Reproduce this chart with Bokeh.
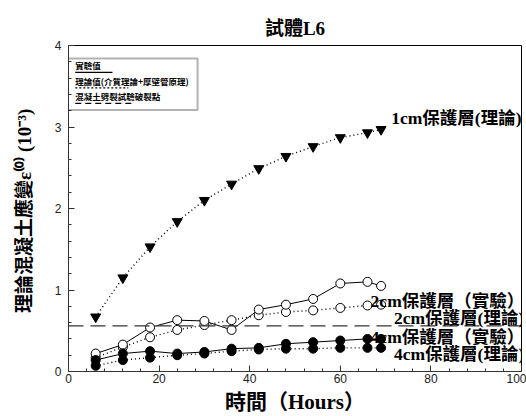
from bokeh.plotting import figure
from bokeh.models import Range1d, Span, Label, SingleIntervalTicker, BoxAnnotation
from bokeh.embed import file_html
from bokeh.resources import INLINE

# ---- data ----
hours = [6, 12, 18, 24, 30, 36, 42, 48, 54, 60, 66, 69]
theory_1cm = [0.67, 1.15, 1.53, 1.84, 2.10, 2.30, 2.49, 2.64, 2.76, 2.87, 2.93, 2.97]
exp_2cm = [0.22, 0.33, 0.54, 0.63, 0.62, 0.51, 0.76, 0.82, 0.89, 1.08, 1.10, 1.05]
theory_2cm = [0.17, 0.30, 0.42, 0.51, 0.57, 0.63, 0.69, 0.73, 0.75, 0.78, 0.81, 0.82]
exp_4cm = [0.14, 0.22, 0.25, 0.22, 0.24, 0.28, 0.29, 0.34, 0.36, 0.38, 0.40, 0.40]
theory_4cm = [0.07, 0.14, 0.17, 0.20, 0.22, 0.25, 0.27, 0.28, 0.28, 0.29, 0.29, 0.29]
split_strain = 0.56

title_text = "試體L6"
x_label = "時間（Hours）"
y_label = "理論混凝土應變ε⁽⁰⁾  (10⁻³)"
legend_labels = ["實驗值", "理論值(介質理論+厚壁管原理)", "混凝土劈裂試驗破裂點"]
series_labels = ["1cm保護層(理論)", "2cm保護層（實驗）", "2cm保護層(理論)",
                 "4cm保護層（實驗）", "4cm保護層(理論)"]

SERIF_CJK = "Liberation Serif, Noto Sans CJK TC"
CJK = "Noto Sans CJK TC"

p = figure(width=526, height=416, x_range=Range1d(0, 100), y_range=Range1d(0, 4),
           output_backend="svg", toolbar_location=None,
           min_border_left=68, min_border_right=5, min_border_top=45, min_border_bottom=44)
p.background_fill_color = "white"
p.border_fill_color = "white"
p.outline_line_color = "black"
p.outline_line_width = 1
p.xgrid.visible = False
p.ygrid.visible = False

p.title.text = title_text
p.title.align = "center"
p.title.offset = 17
p.title.standoff = 13
p.title.text_font = SERIF_CJK
p.title.text_font_size = "19px"
p.title.text_font_style = "bold"
p.title.text_color = "black"

p.xaxis.ticker = SingleIntervalTicker(interval=20, num_minor_ticks=5)
p.yaxis.ticker = SingleIntervalTicker(interval=1, num_minor_ticks=5)
for ax in (p.xaxis, p.yaxis):
    ax.major_tick_in = 6
    ax.major_tick_out = 0
    ax.minor_tick_in = 3
    ax.minor_tick_out = 0
    ax.axis_line_color = "#333333"
    ax.major_tick_line_color = "#333333"
    ax.minor_tick_line_color = "#333333"
    ax.major_label_text_font = "Liberation Sans"
    ax.major_label_text_font_size = "12px"
    ax.major_label_text_color = "#222222"
    ax.axis_label_text_font = SERIF_CJK
    ax.axis_label_text_font_style = "bold"
    ax.axis_label_text_color = "black"

p.xaxis.axis_label = x_label
p.xaxis.axis_label_text_font_size = "21px"
p.xaxis.major_label_standoff = 2
p.xaxis.axis_label_standoff = 4
p.yaxis.axis_label = y_label
p.yaxis.axis_label_text_font_size = "19px"
p.yaxis.major_label_standoff = 7
p.yaxis.axis_label_standoff = 17

# splitting-test failure strain (dashed)
p.add_layout(Span(location=split_strain, dimension="width", line_color="#333333",
                  line_width=1.2, line_dash="15 7"))

dot = "1 3"
# lines
p.line(hours, theory_1cm, line_color="black", line_width=1.4, line_dash=dot)
p.line(hours, theory_2cm, line_color="black", line_width=1.4, line_dash=dot)
p.line(hours, theory_4cm, line_color="black", line_width=1.4, line_dash=dot)
p.line(hours, exp_2cm, line_color="black", line_width=1)
p.line(hours, exp_4cm, line_color="black", line_width=1)
# markers
p.scatter(hours, theory_1cm, marker="inverted_triangle", size=10, fill_color="black", line_color="black")
p.scatter(hours, theory_2cm, marker="circle", size=9, fill_color="white", line_color="black")
p.scatter(hours, exp_2cm, marker="circle", size=9, fill_color="white", line_color="black")
p.scatter(hours, theory_4cm, marker="circle", size=9, fill_color="black", line_color="black")
p.scatter(hours, exp_4cm, marker="circle", size=9, fill_color="black", line_color="black")

# series labels on the right
label_pos = [(100.0, 3.11), (100.6, 0.87), (100.6, 0.655), (100.6, 0.42), (100.6, 0.21)]
for (lx, ly), txt in zip(label_pos, series_labels):
    p.add_layout(Label(x=lx, y=ly, text=txt, text_align="right", text_baseline="middle",
                       text_font=SERIF_CJK, text_font_size="17.5px", text_font_style="bold",
                       text_color="black"))

# legend box (top-left), drawn beneath its line samples
p.add_layout(BoxAnnotation(left=-1.1, right=28.5, top=3.84, bottom=3.21, fill_color="white",
                           fill_alpha=1, line_color="black", line_width=2, level="underlay"))
leg_text_y = [3.76, 3.57, 3.38]
leg_line_y = [3.67, 3.48, 3.29]
leg_line_x1 = [9.7, 13.2, 14.1]
leg_dash = ["solid", "2 2", "6 4"]
for ty, ly, x1, dsh, txt in zip(leg_text_y, leg_line_y, leg_line_x1, leg_dash, legend_labels):
    p.add_layout(Label(x=1.5, y=ty, text=txt, text_align="left", text_baseline="middle",
                       text_font=CJK, text_font_size="8.5px", text_font_style="bold",
                       text_color="black"))
    p.segment(x0=[1.5], y0=[ly], x1=[x1], y1=[ly], line_color="black", line_width=1.2,
              line_dash=dsh)

open("out.html", "w").write(file_html(p, INLINE))
